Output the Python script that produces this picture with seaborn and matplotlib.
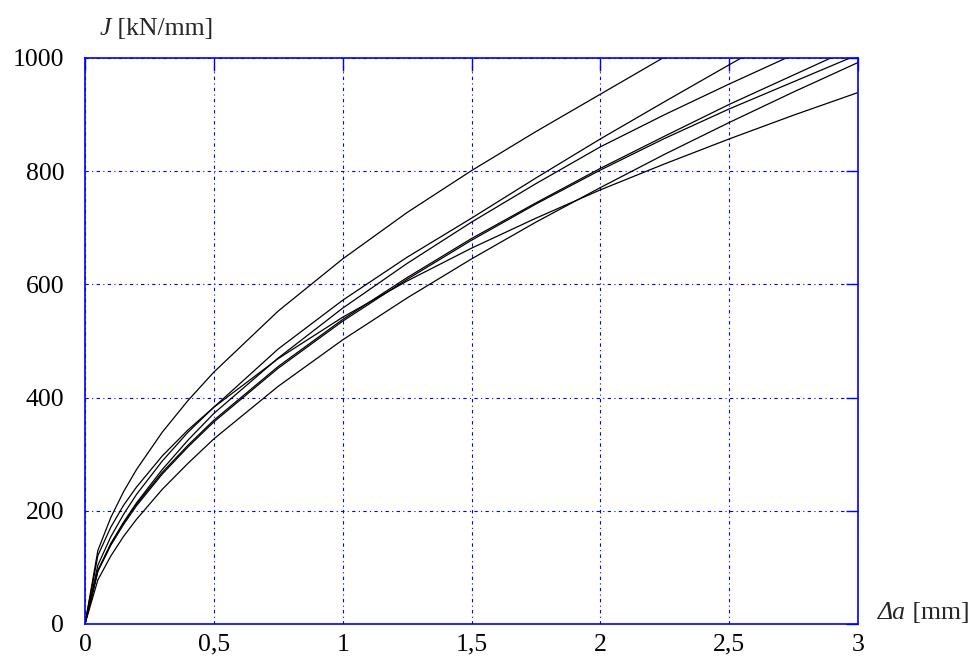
import numpy as np
import pandas as pd
import matplotlib
matplotlib.use("Agg")
import matplotlib.pyplot as plt
from matplotlib.transforms import offset_copy
import seaborn as sns

# crack extension, mm
delta_a = [0, 0.05, 0.1, 0.15, 0.2, 0.3, 0.4, 0.5, 0.75, 1.0, 1.25, 1.5, 1.75,
           2.0, 2.25, 2.5, 2.75, 3.0]

# J-R curves, kN/mm
curve_a = [0, 130, 188, 234, 273, 339, 395, 445, 553, 645, 727, 801, 870, 936, 1002, 1060, 1115, 1165]
curve_b = [0, 104, 154, 194, 229, 288, 339, 383, 486, 572, 648, 717, 788, 857, 923, 988, 1052, 1110]
curve_c = [0, 94, 142, 180, 214, 273, 325, 372, 470, 558, 637, 710, 778, 843, 900, 954, 1006, 1055]
curve_d = [0, 95, 141, 179, 212, 268, 316, 360, 455, 538, 612, 681, 744, 805, 862, 918, 970, 1022]
curve_e = [0, 93, 139, 176, 209, 265, 313, 357, 452, 535, 609, 678, 742, 802, 858, 910, 958, 1006]
curve_f = [0, 78, 120, 155, 185, 238, 284, 327, 420, 502, 576, 645, 710, 771, 830, 886, 940, 992]
curve_g = [0, 121, 171, 210, 242, 297, 343, 383, 469, 542, 606, 664, 717, 767, 813, 857, 899, 939]

curves = {"A": curve_a, "B": curve_b, "C": curve_c, "D": curve_d,
          "E": curve_e, "F": curve_f, "G": curve_g}

x_ticks = [0, 0.5, 1, 1.5, 2, 2.5, 3]
x_tick_labels = ["0", "0,5", "1", "1,5", "2", "2,5", "3"]
y_ticks = [0, 200, 400, 600, 800, 1000]


def build_frame():
    rows = []
    for name, values in curves.items():
        for x, y in zip(delta_a, values):
            rows.append({"da": x, "J": y, "curve": name})
    return pd.DataFrame(rows)


def two_part_label(fig, x, y, italic_part, plain_part, size):
    """Italic symbol followed by an upright unit, placed in figure fractions."""
    t1 = fig.text(x, y, italic_part, ha="left", va="center",
                  fontsize=size, style="italic")
    fig.canvas.draw()
    bb = t1.get_window_extent()
    x2 = bb.x1 / fig.bbox.width
    fig.text(x2, y, plain_part, ha="left", va="center", fontsize=size)


def main():
    sns.set_theme(style="white")
    plt.rcParams["font.family"] = ["Liberation Serif", "DejaVu Serif"]

    blue = "#0000ff"
    data = build_frame()

    fig = plt.figure(figsize=(9.76, 6.56), dpi=100)
    ax = fig.add_axes([85 / 976, 32 / 656, 773 / 976, 566 / 656])

    sns.lineplot(data=data, x="da", y="J", hue="curve",
                 palette=["black"] * len(curves), estimator=None,
                 sort=False, legend=False, linewidth=0.9, ax=ax)

    ax.set_xlim(0, 3)
    ax.set_ylim(0, 1000)
    ax.set_xticks(x_ticks)
    ax.set_xticklabels(x_tick_labels)
    ax.set_yticks(y_ticks)
    ax.set_xlabel("")
    ax.set_ylabel("")

    ax.grid(True, color=blue, linewidth=0.8, linestyle=(0, (3, 3, 1, 3)))
    for spine in ax.spines.values():
        spine.set_color(blue)
        spine.set_linewidth(1.2)
        spine.set_visible(True)

    ax.tick_params(axis="both", direction="in", length=9, width=1.0,
                   color=blue, labelsize=18.5, labelcolor="black",
                   top=True, right=True)
    ax.tick_params(axis="x", pad=7)
    ax.tick_params(axis="y", pad=15)

    two_part_label(fig, 100 / 976, 1 - 29 / 656, "J", " [kN/mm]", 18.5)
    two_part_label(fig, 878 / 976, 1 - 613 / 656, "Δa", " [mm]", 18.5)

    fig.savefig("out.png", dpi=100)


if __name__ == "__main__":
    main()
